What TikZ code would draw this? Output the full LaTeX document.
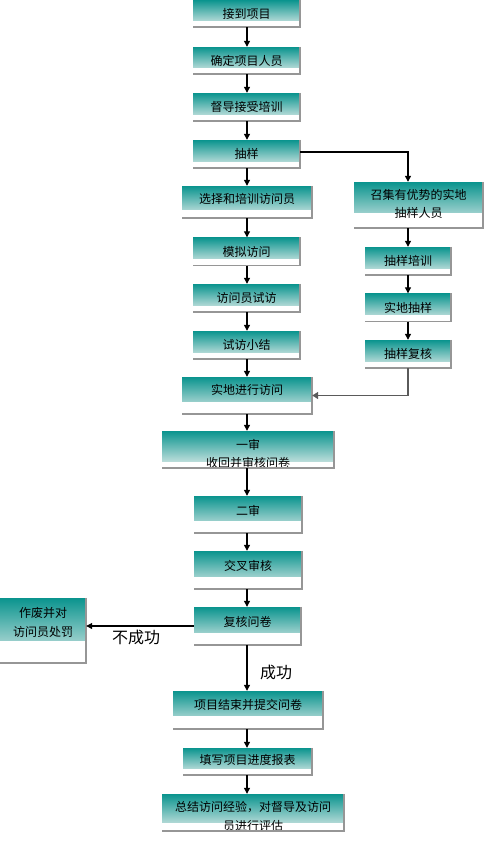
\documentclass[tikz,border=0pt]{standalone}
\usepackage{fontspec}
\newfontfamily\cjk{Noto Sans CJK SC}
\usetikzlibrary{arrows.meta,calc}
\definecolor{tealtop}{RGB}{10,148,142}
\definecolor{tealbot}{RGB}{226,237,235}
\definecolor{shadowgray}{RGB}{150,150,150}
\definecolor{linkgray}{RGB}{90,90,90}
\begin{document}
\begin{tikzpicture}[x=1bp,y=-1bp,
  wh/.store in=\boxwhite, wh=7bp,
  box/.style={rectangle, inner sep=0pt,
    path picture={\shade[top color=tealtop, bottom color=tealbot]
      (path picture bounding box.north west) rectangle
      ([yshift=\boxwhite]path picture bounding box.south east);}},
  txt/.style={font=\cjk\fontsize{12bp}{18.5bp}\selectfont, align=center, inner sep=0pt},
  lab/.style={font=\cjk\fontsize{16bp}{18bp}\selectfont, inner sep=0pt},
  shadowline/.style={draw=shadowgray, line width=1.5bp},
  arr/.style={draw=black, line width=1.1bp, -{Triangle[length=6bp,width=6bp]}},
  arrgray/.style={draw=linkgray, line width=1.6bp, -{Triangle[length=6bp,width=7bp]}}
]
\useasboundingbox (0,0) rectangle (484,841);
\fill[white] (0,0) rectangle (484,841);

% main column
\node[box, wh=7bp, minimum width=107bp, minimum height=27bp, label={[txt]center:接到项目}] (n1) at (246.5,13.5) {};
\node[box, wh=7bp, minimum width=107bp, minimum height=27bp, label={[txt]center:确定项目人员}] (n2) at (246.5,60.5) {};
\node[box, wh=7bp, minimum width=107bp, minimum height=28bp, label={[txt]center:督导接受培训}] (n3) at (246.5,107) {};
\node[box, wh=7bp, minimum width=107bp, minimum height=28bp, label={[txt]center:抽样}] (n4) at (246.5,154) {};
\node[box, wh=9bp, minimum width=130bp, minimum height=32bp, label={[txt,yshift=3bp]center:选择和培训访问员}] (n5) at (247,202) {};
\node[box, wh=7bp, minimum width=107bp, minimum height=28bp, label={[txt]center:模拟访问}] (n7) at (246.5,251.5) {};
\node[box, wh=7bp, minimum width=107bp, minimum height=28bp, label={[txt]center:访问员试访}] (n8) at (246.5,298) {};
\node[box, wh=7bp, minimum width=107bp, minimum height=28bp, label={[txt]center:试访小结}] (n9) at (246.5,345) {};
\node[box, wh=13bp, minimum width=130bp, minimum height=37bp, label={[txt,yshift=5.5bp]center:实地进行访问}] (n10) at (247,395.5) {};
\node[box, wh=7bp, minimum width=172bp, minimum height=37bp, label={[txt,yshift=-4.5bp]center:一审\\收回并审核问卷}] (n14) at (248,449.5) {};
\node[box, wh=13bp, minimum width=108bp, minimum height=37bp, label={[txt,yshift=3.5bp]center:二审}] (n15) at (248,514.5) {};
\node[box, wh=13bp, minimum width=108bp, minimum height=38bp, label={[txt,yshift=4bp]center:交叉审核}] (n16) at (248,570) {};
\node[box, wh=13bp, minimum width=107bp, minimum height=38bp, label={[txt,yshift=4bp]center:复核问卷}] (n17) at (247.5,626) {};
\node[box, wh=14bp, minimum width=150bp, minimum height=38bp, label={[txt,yshift=5bp]center:项目结束并提交问卷}] (n19) at (248,710) {};
\node[box, wh=7bp, minimum width=129bp, minimum height=27bp, label={[txt,yshift=1.5bp]center:填写项目进度报表}] (n20) at (247.5,761.5) {};
\node[box, wh=9bp, minimum width=182bp, minimum height=37bp, label={[txt,yshift=-4bp]center:总结访问经验，对督导及访问\\员进行评估}] (n21) at (253,812.5) {};

% right column
\node[box, wh=16bp, minimum width=129bp, minimum height=46bp, label={[txt,yshift=1bp]center:召集有优势的实地\\抽样人员}] (n6) at (418.5,205) {};
\node[box, wh=7bp, minimum width=86bp, minimum height=28bp, label={[txt]center:抽样培训}] (n11) at (408,261) {};
\node[box, wh=7bp, minimum width=86bp, minimum height=28bp, label={[txt]center:实地抽样}] (n12) at (408,307.5) {};
\node[box, wh=7bp, minimum width=86bp, minimum height=28bp, label={[txt]center:抽样复核}] (n13) at (408,354) {};

% left box
\node[box, wh=23bp, minimum width=86bp, minimum height=65bp, label={[txt,yshift=8bp]center:作废并对\\访问员处罚}] (n18) at (43,630.5) {};

% shadows
\foreach \n in {n1,n2,n3,n4,n5,n6,n7,n8,n9,n10,n11,n12,n13,n14,n15,n16,n17,n18,n19,n20,n21}
  \draw[shadowline] (\n.north east) -- (\n.south east) -- (\n.south west);

% connectors
\coordinate (cx) at (247,0);
\coordinate (rx) at (408,0);
\foreach \a/\b in {n1/n2,n2/n3,n3/n4,n4/n5,n5/n7,n7/n8,n8/n9,n9/n10,n10/n14,n14/n15,n15/n16,n16/n17,n17/n19,n19/n20,n20/n21}
  \draw[arr] (\a.south -| cx) -- (\b.north -| cx);
\foreach \a/\b in {n6/n11,n11/n12,n12/n13}
  \draw[arr] (\a.south -| rx) -- (\b.north -| rx);
\draw[arr] ([yshift=2bp]n4.east) -| (n6.north -| rx);
\draw[arrgray] (n13.south -| rx) |- (n10.east);
\draw[arr] (n17.west) -- (n18.east |- n17.west);

% labels
\node[lab] (fail) at (136,637) {不成功};
\node[lab] (succ) at (276,672) {成功};
\end{tikzpicture}
\end{document}
